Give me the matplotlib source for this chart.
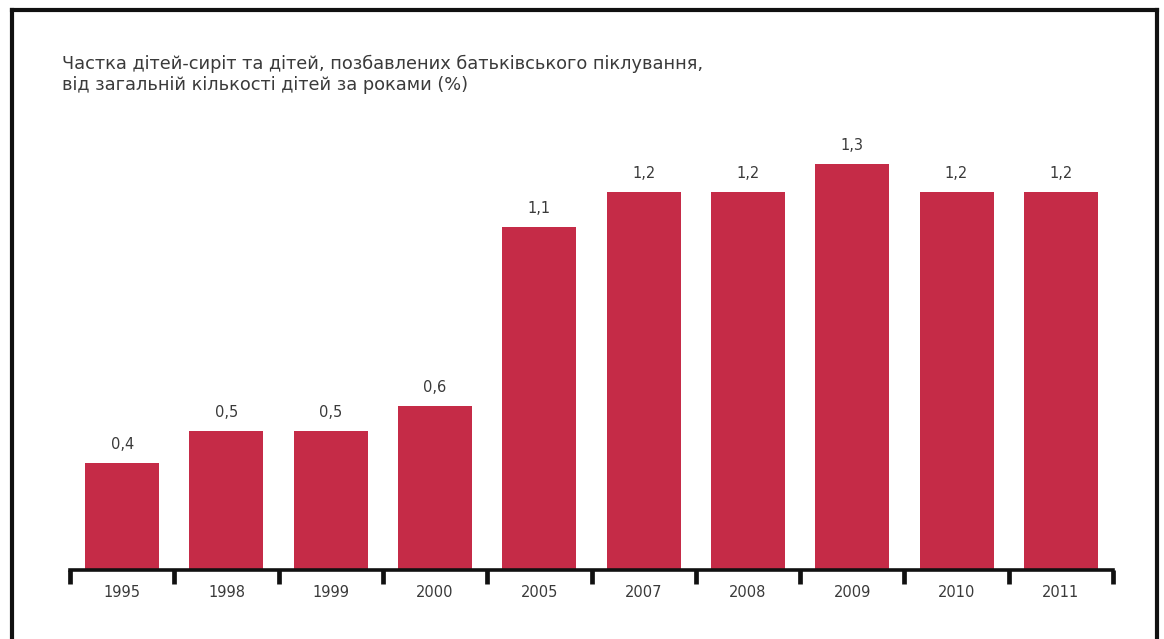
import matplotlib.pyplot as plt
from matplotlib.lines import Line2D

years = ['1995', '1998', '1999', '2000', '2005', '2007', '2008', '2009', '2010', '2011']
shares = [0.34, 0.44, 0.44, 0.52, 1.09, 1.20, 1.20, 1.29, 1.20, 1.20]
value_labels = ['0,4', '0,5', '0,5', '0,6', '1,1', '1,2', '1,2', '1,3', '1,2', '1,2']
title_lines = ['Частка дітей-сиріт та дітей, позбавлених батьківського піклування,',
               'від загальній кількості дітей за роками (%)']

W, H = 1164, 639
plt.rcParams['font.family'] = ['DejaVu Sans']

fig = plt.figure(figsize=(W / 100, H / 100), dpi=100)
fig.patch.set_facecolor('white')

# axes placed in pixel terms: baseline at y=570, categories span x=70..1113
ax = fig.add_axes([70 / W, 69 / H, 1043 / W, 520 / H])
x = range(len(years))
ax.bar(x, shares, width=0.71, color='#c52b47', zorder=2)
ax.set_xlim(-0.5, len(years) - 0.5)
ax.set_ylim(0, 520 / 315)

for i, (v, lab) in enumerate(zip(shares, value_labels)):
    ax.text(i, v + 0.035, lab, ha='center', va='bottom', fontsize=10.5, color='#3a3a3a')

for s in ['top', 'right', 'left']:
    ax.spines[s].set_visible(False)
ax.spines['bottom'].set_linewidth(2.6)
ax.spines['bottom'].set_color('#111111')
ax.set_yticks([])

# tick marks sit between categories, labels at the centres
ax.set_xticks([i - 0.5 for i in range(len(years) + 1)])
ax.set_xticklabels([])
ax.tick_params(axis='x', which='major', length=10, width=3.4, color='#111111', direction='out')
ax.set_xticks(list(x), minor=True)
ax.set_xticklabels(years, minor=True)
ax.tick_params(axis='x', which='minor', length=0, pad=11, labelsize=10.5, labelcolor='#3a3a3a')

fig.text(62 / W, 1 - 64 / H, title_lines[0], fontsize=12.8, color='#3a3a3a', va='center', ha='left')
fig.text(62 / W, 1 - 85 / H, title_lines[1], fontsize=12.8, color='#3a3a3a', va='center', ha='left')

# outer frame (bottom edge runs off the picture)
frame_kw = dict(color='#111111', linewidth=3, solid_capstyle='projecting')
fig.add_artist(Line2D([12 / W, 12 / W], [0, 1 - 10 / H], transform=fig.transFigure, **frame_kw))
fig.add_artist(Line2D([12 / W, 1157 / W], [1 - 10 / H, 1 - 10 / H], transform=fig.transFigure, **frame_kw))
fig.add_artist(Line2D([1157 / W, 1157 / W], [0, 1 - 10 / H], transform=fig.transFigure, **frame_kw))

fig.savefig('out.png', dpi=100)
